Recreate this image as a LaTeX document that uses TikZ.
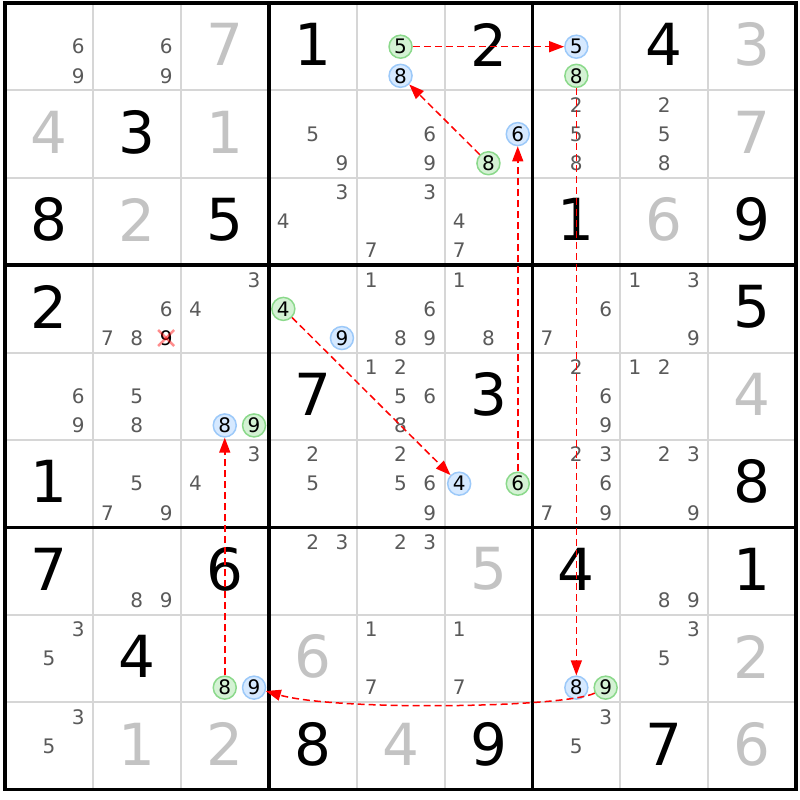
\documentclass[tikz,border=0pt]{standalone}
\usepackage{fontspec}
\setmainfont{DejaVu Sans}
\usetikzlibrary{arrows.meta}
\definecolor{thinline}{HTML}{D6D6D6}
\definecolor{solvcol}{HTML}{C3C3C3}
\definecolor{candcol}{HTML}{5A5A5A}
\definecolor{bluefill}{HTML}{D6E9FF}
\definecolor{blueline}{HTML}{9CC9F9}
\definecolor{greenfill}{HTML}{D4F2D4}
\definecolor{greenline}{HTML}{8BD98B}
\tikzset{
  cnd/.style={inner sep=0pt, font=\fontsize{20}{20}\selectfont, text=candcol},
  bluec/.style={circle, minimum size=23pt, fill=bluefill, draw=blueline, line width=1.5pt, text=black},
  greenc/.style={circle, minimum size=23pt, fill=greenfill, draw=greenline, line width=1.5pt, text=black},
  givn/.style={inner sep=0pt, font=\fontsize{58}{58}\selectfont, text=black},
  solvd/.style={givn, text=solvcol},
  thingrid/.style={draw=thinline, line width=2pt},
  thickgrid/.style={draw=black, line width=3.6pt},
  chainarrow/.style={draw=red, line width=1.5pt, dash pattern=on 7pt off 4pt, -{Triangle[length=15pt,width=11pt]}},
  xmark/.style={draw=red, opacity=0.45, line width=2.5pt},
}
\begin{document}
\begin{tikzpicture}[x=1pt,y=-1pt]
\fill[white] (0,0) rectangle (800,800);
\useasboundingbox (0,0) rectangle (800,800);
% thin grid lines
\foreach \i in {1,2,4,5,7,8} {
  \draw[thingrid] (5+87.9*\i,3) -- (5+87.9*\i,789.6);
  \draw[thingrid] (5,3+87.4*\i) -- (796.1,3+87.4*\i);
}
% thick grid lines
\foreach \i in {0,3,6,9} {
  \draw[thickgrid] (5+87.9*\i,1.2) -- (5+87.9*\i,791.4);
  \draw[thickgrid] (3.2,3+87.4*\i) -- (797.9,3+87.4*\i);
}
% given digits
\foreach \r/\c/\d in {1/4/1,1/6/2,1/8/4,2/2/3,3/1/8,3/3/5,3/7/1,3/9/9,4/1/2,4/9/5,5/4/7,5/6/3,6/1/1,6/9/8,7/1/7,7/3/6,7/7/4,7/9/1,8/2/4,9/4/8,9/6/9,9/8/7}
  \node[givn] (g\r\c) at (5+87.9*\c-43.95, 3+87.4*\r-43.7-2) {\d};
% solved digits
\foreach \r/\c/\d in {1/3/7,1/9/3,2/1/4,2/3/1,2/9/7,3/2/2,3/8/6,5/9/4,7/6/5,8/4/6,8/9/2,9/2/1,9/3/2,9/5/4,9/9/6}
  \node[solvd] (g\r\c) at (5+87.9*\c-43.95, 3+87.4*\r-43.7-2) {\d};
% plain candidates
\foreach \r/\c/\d in {1/1/6,1/1/9,1/2/6,1/2/9,
  2/4/5,2/4/9,2/5/6,2/5/9,2/7/2,2/7/5,2/7/8,2/8/2,2/8/5,2/8/8,
  3/4/3,3/4/4,3/5/3,3/5/7,3/6/4,3/6/7,
  4/2/6,4/2/7,4/2/8,4/3/3,4/3/4,4/5/1,4/5/6,4/5/8,4/5/9,4/6/1,4/6/8,4/7/6,4/7/7,4/8/1,4/8/3,4/8/9,
  5/1/6,5/1/9,5/2/5,5/2/8,5/5/1,5/5/2,5/5/5,5/5/6,5/5/8,5/7/2,5/7/6,5/7/9,5/8/1,5/8/2,
  6/2/5,6/2/7,6/2/9,6/3/3,6/3/4,6/4/2,6/4/5,6/5/2,6/5/5,6/5/6,6/5/9,6/7/2,6/7/3,6/7/6,6/7/7,6/7/9,6/8/2,6/8/3,6/8/9,
  7/2/8,7/2/9,7/4/2,7/4/3,7/5/2,7/5/3,7/8/8,7/8/9,
  8/1/3,8/1/5,8/5/1,8/5/7,8/6/1,8/6/7,8/8/3,8/8/5,
  9/1/3,9/1/5,9/7/3,9/7/5} {
  \pgfmathsetmacro\cx{5+87.9*(\c-1)+(mod(\d-1,3)+0.5)*29.3}
  \pgfmathsetmacro\cy{3+87.4*(\r-1)+(floor((\d-1)/3)+0.5)*29.13}
  \node[cnd] (k\r\c\d) at (\cx,\cy) {\d};
}
% eliminated candidate
\pgfmathsetmacro\cx{5+87.9*1+2.5*29.3}
\pgfmathsetmacro\cy{3+87.4*3+2.5*29.13}
\node[cnd, text=black] (k429) at (\cx,\cy) {9};
\draw[xmark] ([shift={(-8,-8)}]k429.center) -- ([shift={(8,8)}]k429.center);
\draw[xmark] ([shift={(-8,8)}]k429.center) -- ([shift={(8,-8)}]k429.center);
% blue candidates
\foreach \r/\c/\d in {1/5/8,1/7/5,2/6/6,4/4/9,5/3/8,6/6/4,8/3/9,8/7/8} {
  \pgfmathsetmacro\cx{5+87.9*(\c-1)+(mod(\d-1,3)+0.5)*29.3}
  \pgfmathsetmacro\cy{3+87.4*(\r-1)+(floor((\d-1)/3)+0.5)*29.13}
  \node[cnd, bluec] (k\r\c\d) at (\cx,\cy) {\d};
}
% green candidates
\foreach \r/\c/\d in {1/5/5,1/7/8,2/6/8,4/4/4,5/3/9,6/6/6,8/3/8,8/7/9} {
  \pgfmathsetmacro\cx{5+87.9*(\c-1)+(mod(\d-1,3)+0.5)*29.3}
  \pgfmathsetmacro\cy{3+87.4*(\r-1)+(floor((\d-1)/3)+0.5)*29.13}
  \node[cnd, greenc] (k\r\c\d) at (\cx,\cy) {\d};
}
% chain arrows
\draw[chainarrow] (k155) -- (k175);
\draw[chainarrow] (k178) -- (k878);
\draw[chainarrow] (k879) .. controls (565,708) and (335,711) .. (k839);
\draw[chainarrow] (k838) -- (k538);
\draw[chainarrow] (k444) -- (k664);
\draw[chainarrow] (k666) -- (k266);
\draw[chainarrow] (k268) -- (k158);
\end{tikzpicture}
\end{document}
